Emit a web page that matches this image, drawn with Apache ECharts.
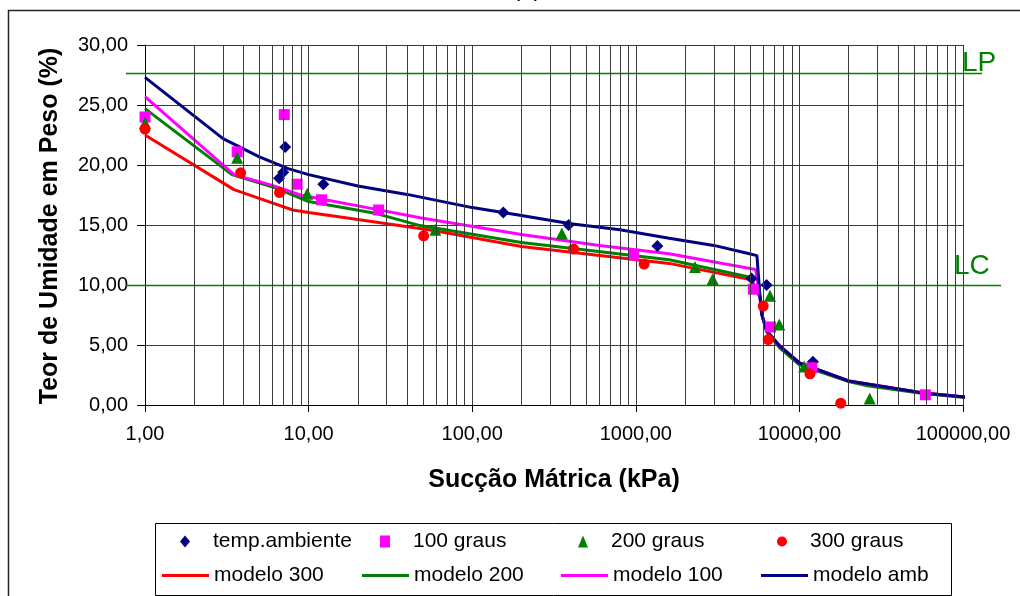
<!DOCTYPE html>
<html>
<head>
<meta charset="utf-8">
<script src="https://cdn.jsdelivr.net/npm/echarts@6/dist/echarts.min.js"></script>
<style>
  html, body { margin: 0; padding: 0; background: #fff; }
  #chart { width: 1020px; height: 596px; }
</style>
</head>
<body>
<div id="chart"></div>
<script>
// Measured points: [suction kPa, water content %]
const tempAmbiente = [[6.6, 18.9], [7.0, 19.4], [7.2, 21.5], [12.3, 18.4], [155, 16.05], [388, 15.0], [1355, 13.25], [5100, 10.55], [6300, 10.0], [12100, 3.6]];
const graus100 = [[1, 24.0], [3.66, 21.1], [7.1, 24.2], [8.5, 18.4], [12.0, 17.1], [26.8, 16.25], [967, 12.5], [5230, 9.65], [6670, 6.5], [11900, 3.1], [58900, 0.85]];
const graus200 = [[1, 23.5], [3.66, 20.6], [9.8, 17.6], [59.5, 14.6], [353, 14.3], [2300, 11.5], [2950, 10.5], [6610, 9.1], [7530, 6.7], [10700, 3.2], [26900, 0.55]];
const graus300 = [[1, 23.0], [3.84, 19.35], [6.64, 17.7], [50.5, 14.1], [416, 13.0], [1124, 11.75], [6010, 8.25], [6450, 5.45], [11600, 2.6], [17900, 0.15]];

// Fitted model curves
const modelo300 = [[1, 22.5], [3.5, 17.95], [5.3, 17.1], [8, 16.25], [10, 16.05], [20, 15.45], [58, 14.55], [200, 13.2], [1600, 11.8], [5000, 10.45], [5750, 9.0], [5880, 7.6], [6300, 6.2], [7600, 4.9], [10000, 3.5], [20000, 2.0], [26000, 1.75], [57000, 1.0], [109000, 0.63]];
const modelo200 = [[1, 24.7], [3.4, 19.2], [6.4, 18.05], [10, 16.95], [26, 15.95], [48, 14.95], [200, 13.55], [1600, 12.1], [5000, 10.65], [5750, 9.0], [5880, 7.6], [6300, 6.1], [7600, 4.75], [10000, 3.35], [20000, 1.95], [26000, 1.6], [57000, 0.95], [109000, 0.6]];
const modelo100 = [[1, 25.7], [3.5, 19.2], [6, 18.3], [8.9, 17.5], [26, 16.3], [48, 15.6], [200, 14.2], [600, 13.3], [1600, 12.6], [5400, 11.3], [5750, 9.0], [5880, 7.6], [6300, 6.2], [7600, 4.9], [10000, 3.5], [20000, 2.0], [26000, 1.75], [57000, 1.0], [109000, 0.63]];
const modeloAmb = [[1, 27.3], [3, 22.2], [5, 20.68], [7.5, 19.7], [10, 19.2], [20, 18.25], [40, 17.55], [100, 16.45], [200, 15.8], [400, 15.1], [800, 14.6], [1600, 13.9], [3000, 13.3], [4800, 12.65], [5500, 12.45], [5750, 9.0], [5880, 7.6], [6300, 6.2], [7600, 4.9], [10000, 3.5], [20000, 2.0], [26000, 1.75], [57000, 1.0], [109000, 0.63]];

// Atterberg limits (reference lines)
const limitNames = ['LP', 'LC'];
const limitValues = [27.7, 10.0];

// Minor gridlines of the logarithmic suction axis
const minorX = [2, 3, 4, 5, 6, 7, 8, 9,
  20, 30, 40, 50, 60, 70, 80, 90,
  200, 300, 400, 500, 600, 700, 800, 900,
  2000, 3000, 4000, 5000, 6000, 7000, 8000, 9000,
  20000, 30000, 40000, 50000, 60000, 70000, 80000, 90000];

const legendRow1 = ['temp.ambiente', '100 graus', '200 graus', '300 graus'];
const legendRow1Icons = ['diamond', 'rect', 'triangle', 'circle'];
const legendRow2 = ['modelo 300', 'modelo 200', 'modelo 100', 'modelo amb'];

const FONT = '"Liberation Sans", Arial, sans-serif';
const GRID_COLOR = '#3a3a3a';
const fmt = v => Number(v).toFixed(2).replace('.', ',');

const chart = echarts.init(document.getElementById('chart'), null, { renderer: 'canvas' });

function lineSeries(name, data, color) {
  return {
    name, type: 'line', data, symbol: 'none', showSymbol: false, clip: false,
    lineStyle: { color, width: 3 }, itemStyle: { color }, z: 3, silent: true
  };
}
function pointSeries(name, data, color, symbol, size) {
  return {
    name, type: 'scatter', data, symbol, symbolSize: size,
    itemStyle: { color, opacity: 1 }, z: 4, silent: true
  };
}

// Legend: two rows of four columns
const markerCenters = [185, 385, 583, 782];
const lineStarts = [162, 362, 561, 761];
const legends = [];
legendRow1.forEach((n, i) => legends.push({
  data: [{ name: n, icon: legendRow1Icons[i] }], left: markerCenters[i] - 5, top: 531, padding: 0,
  itemWidth: 10, itemHeight: 12, selectedMode: false,
  textStyle: { fontSize: 21, color: '#000', fontFamily: FONT, padding: [0, 0, 0, 18] }
}));
legendRow2.forEach((n, i) => legends.push({
  data: [{ name: n, icon: 'rect' }], left: lineStarts[i], top: 565, padding: 0,
  itemWidth: 47, itemHeight: 3, selectedMode: false,
  textStyle: { fontSize: 21, color: '#000', fontFamily: FONT }
}));

chart.setOption({
  animation: false,
  backgroundColor: '#fff',
  grid: { left: 145, right: 57, top: 45, bottom: 191, containLabel: false },
  legend: legends,
  xAxis: {
    type: 'log', logBase: 10, min: 1, max: 100000,
    axisLine: { show: true, lineStyle: { color: '#000', width: 1 } },
    axisTick: { show: true, length: 7, lineStyle: { color: '#000' } },
    axisLabel: { fontSize: 20, color: '#000', fontFamily: FONT, margin: 19, formatter: fmt },
    splitLine: { show: true, lineStyle: { color: GRID_COLOR, width: 1 } }
  },
  yAxis: {
    type: 'value', min: 0, max: 30, interval: 5,
    axisLine: { show: true, lineStyle: { color: '#000', width: 1 } },
    axisTick: { show: true, length: 8, lineStyle: { color: '#000' } },
    axisLabel: { fontSize: 20, color: '#000', fontFamily: FONT, margin: 17, formatter: fmt },
    splitLine: { show: true, lineStyle: { color: GRID_COLOR, width: 1 } }
  },
  series: [
    {
      name: 'grade', type: 'line', data: [], z: 1, silent: true,
      markLine: {
        silent: true, symbol: 'none', animation: false,
        label: { show: false },
        lineStyle: { color: GRID_COLOR, width: 1, type: 'solid' },
        emphasis: { disabled: true },
        data: minorX.map(v => ({ xAxis: v }))
      }
    },
    lineSeries('modelo 300', modelo300, '#ff0000'),
    lineSeries('modelo 200', modelo200, '#008000'),
    lineSeries('modelo 100', modelo100, '#ff00ff'),
    lineSeries('modelo amb', modeloAmb, '#000080'),
    pointSeries('temp.ambiente', tempAmbiente, '#000080', 'diamond', 12),
    pointSeries('100 graus', graus100, '#ff00ff', 'rect', 11),
    pointSeries('200 graus', graus200, '#008000', 'triangle', 12),
    pointSeries('300 graus', graus300, '#ff0000', 'circle', 11)
  ]
});

// Limit lines run past the plot frame, so they are placed as graphics at the axis position
const limitEnds = [982, 1001];
const limitLabelX = [962, 954];
const limitLabelLift = [-4, 5];
const graphics = [
  { type: 'rect', shape: { x: 8.5, y: 10.5, width: 1200, height: 900 }, style: { fill: null, stroke: '#222', lineWidth: 1.5 }, silent: true, z: 0 },
  { type: 'rect', shape: { x: 155.5, y: 523.5, width: 796, height: 72 }, style: { fill: null, stroke: '#000', lineWidth: 1 }, silent: true },
  { type: 'text', x: 527, y: 1, style: { text: '(a)', font: '24px ' + FONT, fill: '#000', textAlign: 'center', textVerticalAlign: 'bottom' }, silent: true },
  { type: 'text', x: 50, y: 226, rotation: Math.PI / 2, style: { text: 'Teor de Umidade em Peso (%)', font: 'bold 25px ' + FONT, fill: '#000', textAlign: 'center', textVerticalAlign: 'middle' }, silent: true },
  { type: 'text', x: 554, y: 480, style: { text: 'Sucção Mátrica (kPa)', font: 'bold 25px ' + FONT, fill: '#000', textAlign: 'center', textVerticalAlign: 'middle' }, silent: true }
];
limitValues.forEach((v, i) => {
  const y = Math.round(chart.convertToPixel({ yAxisIndex: 0 }, v)) + 0.5;
  graphics.push({ type: 'line', shape: { x1: 126, y1: y, x2: limitEnds[i], y2: y }, style: { stroke: '#008000', lineWidth: 1.5 }, z: 2, silent: true });
  graphics.push({ type: 'text', x: limitLabelX[i], y: y - limitLabelLift[i], style: { text: limitNames[i], font: '28px ' + FONT, fill: '#008000', textAlign: 'left', textVerticalAlign: 'bottom' }, z: 2, silent: true });
});
chart.setOption({ graphic: graphics });
</script>
</body>
</html>
